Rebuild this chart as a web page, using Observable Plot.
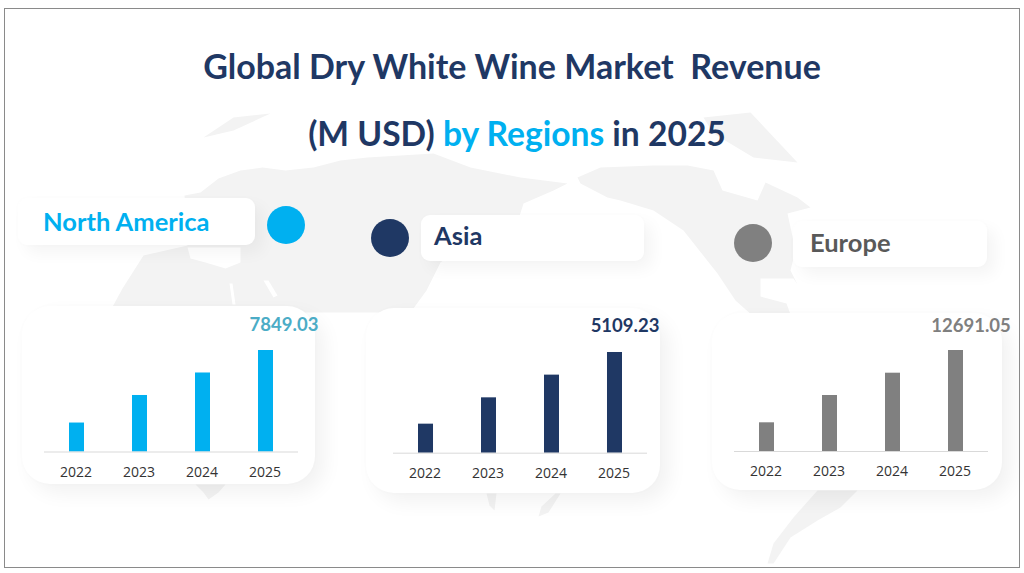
<!DOCTYPE html>
<html>
<head>
<meta charset="utf-8">
<script src="https://cdn.jsdelivr.net/npm/d3@7"></script>
<script src="https://cdn.jsdelivr.net/npm/@observablehq/plot@0.6"></script>
<style>
html,body{margin:0;padding:0;background:#fff;}
#page{position:relative;width:1024px;height:573px;overflow:hidden;background:#fff;font-family:Lato,sans-serif;}
#frame{position:absolute;left:4px;top:8px;width:1014px;height:558px;border:1px solid #8a8a8a;pointer-events:none;z-index:9;}
.title{position:absolute;left:0;width:1024px;text-align:center;font-weight:700;font-size:34px;line-height:40px;color:#1f3864;white-space:pre;z-index:3;}
.title span{color:#00b0f0;}
.card{position:absolute;background:#fff;border-radius:28px;box-shadow:9px 9px 20px rgba(0,0,0,.055),0 0 5px rgba(0,0,0,.015);z-index:2;}
.pill{position:absolute;background:#fff;border-radius:9px;box-shadow:8px 8px 16px rgba(0,0,0,.045),0 0 5px rgba(0,0,0,.015);z-index:2;font-weight:700;font-size:25.5px;box-sizing:border-box;}
.dot{position:absolute;width:38px;height:38px;border-radius:50%;z-index:3;}
.chart{position:absolute;z-index:4;}
.chart svg{overflow:visible;display:block;}
#map{position:absolute;left:0;top:0;z-index:1;}
</style>
</head>
<body>
<div id="page">
  <div id="map"></div>
  <div class="title" style="top:46px">Global Dry White Wine Market  Revenue</div>
  <div class="title" style="top:113px;left:5px;font-size:33.6px">(M USD) <span>by Regions</span> in 2025</div>
  <div id="cards"></div>
  <div id="frame"></div>
</div>
<script>
const years = ["2022", "2023", "2024", "2025"];
const northAmerica = [2240, 4370, 6110, 7849.03];
const asia = [1473, 2809, 3961, 5109.23];
const europe = [3606, 7037, 9840, 12691.05];

const regionNames = ["North America", "Asia", "Europe"];
const regionSeries = [northAmerica, asia, europe];
const barColors = ["#00b0f0", "#1f3864", "#808080"];
const labelColors = ["#4bacc6", "#1f3864", "#7f7f7f"];
const nameColors = ["#00b0f0", "#1f3864", "#595959"];

// Faint background map outlines in page pixels
const landAfroEurasia = [[110,310],[122,288],[143,255],[187,245],[184,195],[200,192],[218,178],[240,170],[262,167],[285,170],[313,167],[340,160],[367,157],[400,155],[433,153],[470,167],[520,177],[567,183],[553,190],[523,203],[517,222],[490,230],[470,240],[440,262],[426,290],[410,312],[110,312]];
const landAfricaTip = [[195,484],[225,484],[218,492],[208,499],[203,492]];
const landNorthAmerica = [[577,177],[600,167],[653,165],[687,165],[713,170],[722,190],[757,200],[765,182],[797,197],[810,207],[787,213],[795,250],[790,270],[797,284],[793,278],[760,278],[760,296],[786,303],[790,314],[753,316],[735,300],[717,273],[683,230],[653,210],[620,200],[607,197],[580,183]];
const landGreenland = [[703,117],[750,112],[797,162],[753,157],[713,133]];
const landArctic = [[203,137],[233,117],[270,113],[233,130]];
const landSouthAmerica = [[817,490],[857,490],[840,507],[817,520],[790,537],[773,563],[767,563],[773,543],[793,517]];
const landIndonesia = [[486,493],[496,493],[494,510],[489,505]];
const landPhilippines = [[555,493],[560,493],[548,512],[538,516],[541,506]];
const waterMediterranean = [[187,247],[240,247],[240,262],[225,268],[205,262],[190,258]];
const waterRedSea = [[229,283],[232,283],[235,304],[232,304]];
const waterGulf = [[263,280],[268,280],[277,295],[273,297]];
const waterJapanSea = [[445,262],[460,258],[455,275],[445,272]];

const lands = [landAfroEurasia, landAfricaTip, landNorthAmerica, landGreenland, landArctic, landSouthAmerica, landIndonesia, landPhilippines];
const waters = [waterMediterranean, waterRedSea, waterGulf, waterJapanSea];
const toRows = list => list.flatMap((pts, i) => pts.map(([x, y]) => ({x, y, part: i})));

document.getElementById("map").append(Plot.plot({
  width: 1024, height: 573, margin: 0,
  x: {domain: [0, 1024], range: [0, 1024], axis: null},
  y: {domain: [0, 573], range: [0, 573], axis: null},
  marks: [
    Plot.line(toRows(lands), {x: "x", y: "y", z: "part", fill: "#f3f3f3", stroke: "none", curve: "linear-closed"}),
    Plot.line(toRows(waters), {x: "x", y: "y", z: "part", fill: "#ffffff", stroke: "none", curve: "linear-closed"})
  ]
}));

// Layout of each panel (card, pill, dot, chart)
const cardBoxes = [[22,306,293,178],[366,308,294,185],[712,313,290,177]];
const pillBoxes = [[18,198,237,47],[421,215,223,46],[793,221,194,46]];
const nameLeft = [25,13,17];
const nameLine = [47,40,42];
const dotCentres = [[286,225],[390,238],[753,243]];
const axisStart = [43.5,392.5,733.5];
const axisWidth = [254,254,254];
const baselines = [451.5,452.5,451];
const barHeights = [101.5,100.7,101];
const labelDx = [18,10,15];
const labelDy = [-25,-26,-24];

const host = document.getElementById("cards");
regionNames.forEach((name, i) => {
  const [cx, cy, cw, ch] = cardBoxes[i];
  const card = document.createElement("div");
  card.className = "card";
  card.style.cssText = `left:${cx}px;top:${cy}px;width:${cw}px;height:${ch}px`;
  host.append(card);

  const [px, py, pw, ph] = pillBoxes[i];
  const pill = document.createElement("div");
  pill.className = "pill";
  pill.style.cssText = `left:${px}px;top:${py}px;width:${pw}px;height:${ph}px;line-height:${nameLine[i]}px;padding-left:${nameLeft[i]}px;color:${nameColors[i]}`;
  pill.textContent = name;
  host.append(pill);

  const dot = document.createElement("div");
  dot.className = "dot";
  dot.style.cssText = `left:${dotCentres[i][0]-19}px;top:${dotCentres[i][1]-19}px;background:${barColors[i]}`;
  host.append(dot);

  const rows = years.map((year, k) => ({year, value: regionSeries[i][k]}));
  const last = rows.slice(-1);
  const top = 30;
  const bottom = 32;
  const plot = Plot.plot({
    width: axisWidth[i],
    height: barHeights[i] + top + bottom,
    marginLeft: 0, marginRight: 0, marginTop: top, marginBottom: bottom,
    x: {type: "band", domain: years, paddingInner: 0.76, paddingOuter: 0.38, axis: null},
    y: {domain: [0, regionSeries[i][3]], axis: null},
    style: {background: "transparent", overflow: "visible"},
    marks: [
      Plot.barY(rows, {x: "year", y: "value", fill: barColors[i]}),
      Plot.ruleY([0], {stroke: "#d9d9d9", strokeWidth: 1}),
      Plot.axisX({domain: years, tickSize: 0, tickPadding: 15, dx: -1, fontSize: 14, fontFamily: "Open Sans", fill: "#333333", label: null}),
      Plot.text(last, {x: "year", y: "value", text: d => d.value.toFixed(2), dx: labelDx[i], dy: labelDy[i], fill: labelColors[i], fontSize: 18.5, fontWeight: 700, fontFamily: "Lato"})
    ]
  });
  const wrap = document.createElement("div");
  wrap.className = "chart";
  wrap.style.cssText = `left:${axisStart[i]}px;top:${baselines[i]-barHeights[i]-top}px`;
  wrap.append(plot);
  host.append(wrap);
});
</script>
</body>
</html>
